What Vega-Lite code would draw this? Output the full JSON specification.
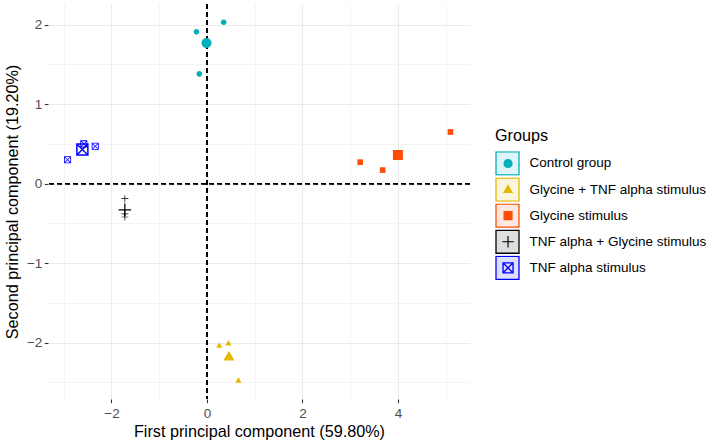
{
  "$schema": "https://vega.github.io/schema/vega-lite/v6.json",
  "width": 422,
  "height": 395,
  "autosize": {"type": "none"},
  "padding": {"left": 48, "top": 4, "right": 242, "bottom": 46},
  "background": "white",
  "config": {
    "font": "Liberation Sans",
    "view": {"stroke": null}
  },
  "data": {
    "values": [
      {"group": "Control group", "kind": "individual", "PC1": 0.35, "PC2": 2.03},
      {"group": "Control group", "kind": "individual", "PC1": -0.22, "PC2": 1.91},
      {"group": "Control group", "kind": "individual", "PC1": -0.16, "PC2": 1.38},
      {"group": "Control group", "kind": "mean", "PC1": -0.01, "PC2": 1.77},
      {"group": "Glycine + TNF alpha stimulus", "kind": "individual", "PC1": 0.26, "PC2": -2.04},
      {"group": "Glycine + TNF alpha stimulus", "kind": "individual", "PC1": 0.45, "PC2": -2.01},
      {"group": "Glycine + TNF alpha stimulus", "kind": "individual", "PC1": 0.66, "PC2": -2.48},
      {"group": "Glycine + TNF alpha stimulus", "kind": "mean", "PC1": 0.46, "PC2": -2.18},
      {"group": "Glycine stimulus", "kind": "individual", "PC1": 3.21, "PC2": 0.27},
      {"group": "Glycine stimulus", "kind": "individual", "PC1": 3.68, "PC2": 0.17},
      {"group": "Glycine stimulus", "kind": "individual", "PC1": 5.10, "PC2": 0.65},
      {"group": "Glycine stimulus", "kind": "mean", "PC1": 4.0, "PC2": 0.36},
      {"group": "TNF alpha + Glycine stimulus", "kind": "individual", "PC1": -1.72, "PC2": -0.19},
      {"group": "TNF alpha + Glycine stimulus", "kind": "individual", "PC1": -1.72, "PC2": -0.38},
      {"group": "TNF alpha + Glycine stimulus", "kind": "individual", "PC1": -1.72, "PC2": -0.42},
      {"group": "TNF alpha + Glycine stimulus", "kind": "mean", "PC1": -1.72, "PC2": -0.33},
      {"group": "TNF alpha stimulus", "kind": "individual", "PC1": -2.92, "PC2": 0.30},
      {"group": "TNF alpha stimulus", "kind": "individual", "PC1": -2.34, "PC2": 0.47},
      {"group": "TNF alpha stimulus", "kind": "individual", "PC1": -2.58, "PC2": 0.50},
      {"group": "TNF alpha stimulus", "kind": "mean", "PC1": -2.61, "PC2": 0.43}
    ]
  },
  "layer": [
    {
      "mark": {"type": "rule", "color": "black", "strokeWidth": 0.85, "strokeDash": [4.5, 3.5]},
      "encoding": {"x": {"datum": 0, "type": "quantitative"}}
    },
    {
      "mark": {"type": "rule", "color": "black", "strokeWidth": 0.85, "strokeDash": [4.5, 3.5]},
      "encoding": {"y": {"datum": 0, "type": "quantitative"}}
    },
    {
      "mark": {"type": "point", "filled": true, "opacity": 0, "size": 0},
      "encoding": {
        "x": {"field": "PC1", "type": "quantitative"},
        "y": {"field": "PC2", "type": "quantitative"},
        "fill": {
          "field": "group", "type": "nominal",
          "scale": {
            "domain": ["Control group", "Glycine + TNF alpha stimulus", "Glycine stimulus", "TNF alpha + Glycine stimulus", "TNF alpha stimulus"],
            "range": ["#DFF4F6", "#FBF5DE", "#FEE8DF", "#DEDEDE", "#DEDEFE"]
          },
          "legend": {
            "orient": "none", "legendX": 447, "legendY": 124, "padding": 0,
            "title": "Groups", "titleFontSize": 16.2, "titleFontWeight": "normal", "titleColor": "black", "titlePadding": 7,
            "labelFontSize": 13.5, "labelColor": "black", "labelOffset": 9.5, "labelLimit": 300,
            "symbolType": "square", "symbolSize": 529, "symbolStrokeWidth": 1.3, "symbolOpacity": 1,
            "clipHeight": 24.5, "rowPadding": 1.1
          }
        },
        "stroke": {
          "field": "group", "type": "nominal",
          "scale": {
            "domain": ["Control group", "Glycine + TNF alpha stimulus", "Glycine stimulus", "TNF alpha + Glycine stimulus", "TNF alpha stimulus"],
            "range": ["#00AFBB", "#E7B800", "#FC4E07", "#000000", "#0000FF"]
          },
          "legend": {
            "orient": "none", "legendX": 447, "legendY": 124, "padding": 0,
            "title": "Groups", "titleFontSize": 16.2, "titleFontWeight": "normal", "titleColor": "black", "titlePadding": 7,
            "labelFontSize": 13.5, "labelColor": "black", "labelOffset": 9.5, "labelLimit": 300,
            "symbolType": "square", "symbolSize": 529, "symbolStrokeWidth": 1.3, "symbolOpacity": 1,
            "clipHeight": 24.5, "rowPadding": 1.1
          }
        }
      }
    },
    {
      "mark": {"type": "point", "filled": true, "opacity": 1, "strokeWidth": 0},
      "encoding": {
        "x": {
          "field": "PC1", "type": "quantitative",
          "scale": {"domain": [-3.33, 5.51], "nice": false, "zero": false},
          "axis": {
            "title": "First principal component (59.80%)",
            "values": [-3, -2, -1, 0, 1, 2, 3, 4, 5],
            "labelExpr": "datum.value % 2 == 0 ? format(datum.value, 'd') : ''",
            "labelOverlap": false,
            "domain": false,
            "grid": true,
            "gridColor": "#EBEBEB",
            "gridWidth": {"condition": {"test": "datum.value % 2 != 0", "value": 0.55}, "value": 1.1},
            "ticks": true,
            "tickColor": "#333333",
            "tickWidth": 1.1,
            "tickSize": 3.7,
            "tickOpacity": {"condition": {"test": "datum.value % 2 != 0", "value": 0}, "value": 1},
            "labelColor": "#4D4D4D",
            "labelFontSize": 13.5,
            "labelPadding": 3.5,
            "titleFontSize": 16.2,
            "titleFontWeight": "normal",
            "titleColor": "black",
            "titlePadding": 4
          }
        },
        "y": {
          "field": "PC2", "type": "quantitative",
          "scale": {"domain": [-2.71, 2.26], "nice": false, "zero": false},
          "axis": {
            "title": "Second principal component (19.20%)",
            "values": [-2.5, -2, -1.5, -1, -0.5, 0, 0.5, 1, 1.5, 2],
            "labelExpr": "datum.value % 1 == 0 ? format(datum.value, 'd') : ''",
            "labelOverlap": false,
            "domain": false,
            "grid": true,
            "gridColor": "#EBEBEB",
            "gridWidth": {"condition": {"test": "datum.value % 1 != 0", "value": 0.55}, "value": 1.1},
            "ticks": true,
            "tickColor": "#333333",
            "tickWidth": 1.1,
            "tickSize": 3.7,
            "tickOpacity": {"condition": {"test": "datum.value % 1 != 0", "value": 0}, "value": 1},
            "labelColor": "#4D4D4D",
            "labelFontSize": 13.5,
            "labelPadding": 2.5,
            "titleFontSize": 16.2,
            "titleFontWeight": "normal",
            "titleColor": "black",
            "titlePadding": 6
          }
        },
        "color": {
          "field": "group", "type": "nominal",
          "scale": {"range": ["#00AFBB", "#E7B800", "#FC4E07", "#000000", "#0000FF"]},
          "legend": {
            "orient": "none", "legendX": 447, "legendY": 147.2, "padding": 0,
            "title": null,
            "labelExpr": "''", "labelFontSize": 13.5, "labelOffset": 0,
            "symbolSize": 130, "symbolOffset": 6.3, "symbolStrokeWidth": 0,
            "clipHeight": 24.5, "rowPadding": 1.1
          }
        },
        "shape": {
          "field": "group", "type": "nominal",
          "scale": {"range": [
            "M0.8,0A0.8,0.8,0,1,1,-0.8,0A0.8,0.8,0,1,1,0.8,0Z",
            "M0,-0.95L0.9,0.6H-0.9Z",
            "M-0.8,-0.8H0.8V0.8H-0.8Z",
            "M-1,-0.1H1V0.1H-1Z M-0.1,-1H0.1V1H-0.1Z",
            "M-1,-1H1V1H-1Z M-0.76,-0.76V0.76H0.76V-0.76Z M-0.8,-0.64L-0.64,-0.8L0.8,0.64L0.64,0.8Z M0.8,-0.64L-0.64,0.8L-0.8,0.64L0.64,-0.8Z"
          ]},
          "legend": {
            "orient": "none", "legendX": 447, "legendY": 147.2, "padding": 0,
            "title": null,
            "labelExpr": "''", "labelFontSize": 13.5, "labelOffset": 0,
            "symbolSize": 130, "symbolOffset": 6.3, "symbolStrokeWidth": 0,
            "clipHeight": 24.5, "rowPadding": 1.1
          }
        },
        "size": {
          "field": "kind", "type": "ordinal",
          "scale": {"domain": ["individual", "mean"], "range": [50, 156]},
          "legend": null
        }
      }
    }
  ]
}
